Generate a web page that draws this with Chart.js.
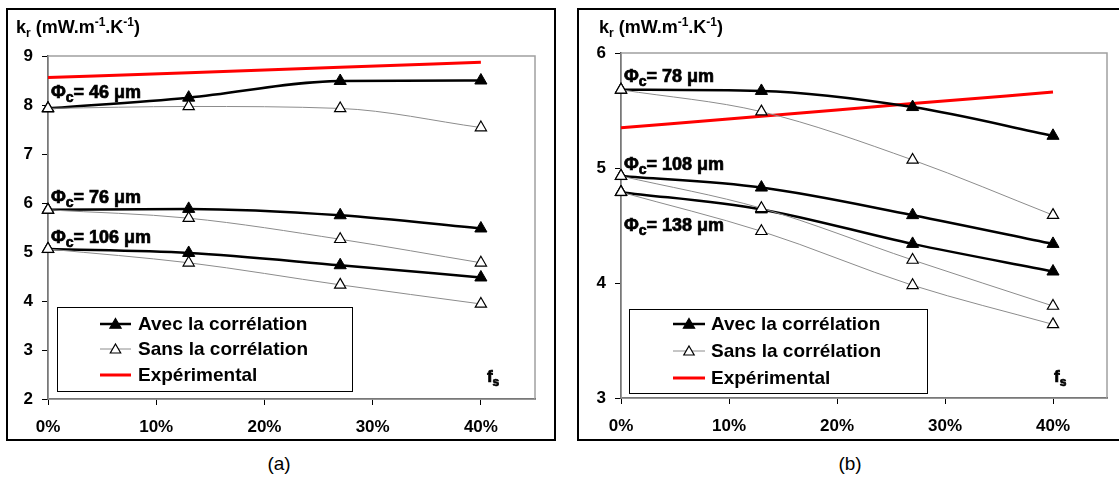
<!DOCTYPE html>
<html>
<head>
<meta charset="utf-8">
<script src="https://cdn.jsdelivr.net/npm/chart.js@4"></script>
<style>
body{margin:0;background:#fff;width:1119px;height:481px;overflow:hidden;position:relative;font-family:"Liberation Sans",Arial,sans-serif}
.box{position:absolute;border:2px solid #000;box-sizing:border-box}
canvas{position:absolute}
.cap{position:absolute;font-size:19px;top:453px;width:40px;text-align:center}
</style>
</head>
<body>
<div class="box" style="left:6px;top:8px;width:550px;height:433px"></div>
<canvas id="chartA" style="left:8px;top:10px" width="546" height="429"></canvas>
<div class="box" style="left:577px;top:8px;width:545px;height:433px"></div>
<canvas id="chartB" style="left:579px;top:10px" width="538" height="429"></canvas>
<div class="cap" style="left:259px">(a)</div>
<div class="cap" style="left:830px">(b)</div>
<script>
// fraction of solid (fs)
var fsValues = [0, 0.13, 0.27, 0.40];
var xTickValues = [0, 0.1, 0.2, 0.3, 0.4];
var xMax = 0.45;

// (a)
var avec46  = [7.93, 8.15, 8.49, 8.50];
var sans46  = [7.93, 7.97, 7.93, 7.54];
var avec76  = [5.86, 5.88, 5.75, 5.48];
var sans76  = [5.86, 5.69, 5.26, 4.78];
var avec106 = [5.06, 4.98, 4.73, 4.48];
var sans106 = [5.06, 4.78, 4.33, 3.94];
var expA    = [8.56, 8.66, 8.77, 8.87];

// (b)
var avec78  = [5.68, 5.67, 5.53, 5.28];
var sans78  = [5.68, 5.49, 5.07, 4.59];
var avec108 = [4.93, 4.83, 4.59, 4.34];
var sans108 = [4.93, 4.65, 4.20, 3.80];
var avec138 = [4.79, 4.64, 4.34, 4.10];
var sans138 = [4.79, 4.45, 3.98, 3.64];
var expB    = [5.35, 5.45, 5.56, 5.66];

var legendLabels = ["Avec la corrélation", "Sans la corrélation", "Expérimental"];

function series(vals) {
    return fsValues.map(function(x, i) { return {x: x, y: vals[i]}; });
}

var avecStyle = {borderColor:'#000', borderWidth:2.5, pointStyle:'triangle', pointRadius:7,
    pointBackgroundColor:'#000', pointBorderColor:'#000', pointBorderWidth:1, cubicInterpolationMode:'monotone', clip:false};
var sansStyle = {borderColor:'#8c8c8c', borderWidth:1, pointStyle:'triangle', pointRadius:6.5,
    pointBackgroundColor:'#fff', pointBorderColor:'#000', pointBorderWidth:1.2, cubicInterpolationMode:'monotone', clip:false};
var expStyle = {borderColor:'#ff0000', borderWidth:3, pointRadius:0, cubicInterpolationMode:'monotone', clip:false};

function ds(vals, style) {
    return Object.assign({data: series(vals)}, style);
}

// text with sub/superscripts
function drawRuns(ctx, x, y, runs, outline) {
    runs.forEach(function(r) {
        ctx.font = 'bold ' + r.s + 'px "Liberation Sans", Arial, sans-serif';
        ctx.fillText(r.t, x, y + (r.dy || 0));
        if (outline) {
            ctx.lineWidth = 0.7;
            ctx.strokeText(r.t, x, y + (r.dy || 0));
        }
        x += ctx.measureText(r.t).width;
    });
}

function triangle(ctx, x, y, r, fill) {
    ctx.beginPath();
    for (var k = 0; k < 3; k++) {
        var a = k * 2 * Math.PI / 3;
        var px = x + Math.sin(a) * r, py = y - Math.cos(a) * r;
        if (k == 0) ctx.moveTo(px, py); else ctx.lineTo(px, py);
    }
    ctx.closePath();
    ctx.fillStyle = fill;
    ctx.fill();
    ctx.strokeStyle = '#000';
    ctx.lineWidth = 1.2;
    ctx.stroke();
}

var decorPlugin = {
    id: 'decor',
    beforeDatasetsDraw: function(chart) {
        var a = chart.chartArea, ctx = chart.ctx;
        ctx.save();
        ctx.strokeStyle = '#a0a0a0';
        ctx.lineWidth = 1.5;
        ctx.strokeRect(a.left, a.top, a.right - a.left, a.bottom - a.top);
        ctx.restore();
    },
    afterDraw: function(chart, args, o) {
        var ctx = chart.ctx, a = chart.chartArea;
        var xs = chart.scales.x, ys = chart.scales.y;
        ctx.save();
        ctx.fillStyle = '#000';
        ctx.strokeStyle = '#000';
        ctx.textBaseline = 'alphabetic';
        // axis title
        drawRuns(ctx, o.titleX, o.titleY, [
            {t:'k', s:18}, {t:'r', s:12, dy:4}, {t:' (mW.m', s:18}, {t:'-1', s:12, dy:-7},
            {t:'.K', s:18}, {t:'-1', s:12, dy:-7}, {t:')', s:18}]);
        // curve labels
        o.labels.forEach(function(l) {
            drawRuns(ctx, xs.getPixelForValue(0) + 3, ys.getPixelForValue(l.y), [
                {t:'Φ', s:18}, {t:'c', s:14, dy:4}, {t:'= ' + l.d + ' μm', s:18}], true);
        });
        drawRuns(ctx, xs.getPixelForValue(o.fsX), ys.getPixelForValue(o.fsY), [
            {t:'f', s:17}, {t:'s', s:12, dy:4}], true);
        // legend
        var L = o.legend;
        var bx = a.left + L.x, by = a.top + L.y;
        ctx.fillStyle = '#fff';
        ctx.fillRect(bx, by, L.w, L.h);
        ctx.strokeStyle = '#000';
        ctx.lineWidth = 1;
        ctx.strokeRect(bx + 0.5, by + 0.5, L.w, L.h);
        var styles = [avecStyle, sansStyle, expStyle];
        legendLabels.forEach(function(txt, i) {
            var ry = by + L.rows[i];
            var st = styles[i];
            ctx.strokeStyle = st.borderColor;
            ctx.lineWidth = st.borderWidth;
            ctx.beginPath();
            ctx.moveTo(bx + L.l1, ry);
            ctx.lineTo(bx + L.l2, ry);
            ctx.stroke();
            if (st.pointRadius) triangle(ctx, bx + (L.l1 + L.l2) / 2, ry + 1, st.pointRadius - 0.5, st.pointBackgroundColor);
            ctx.fillStyle = '#000';
            ctx.font = 'bold 19px "Liberation Sans", Arial, sans-serif';
            ctx.textBaseline = 'middle';
            ctx.fillText(txt, bx + L.tx, ry + 1);
        });
        ctx.restore();
    }
};

function makeChart(id, sets, yMin, yMax, axisW, axisH, pad, deco) {
    return new Chart(document.getElementById(id), {
        type: 'line',
        data: {datasets: sets},
        plugins: [decorPlugin],
        options: {
            responsive: false,
            animation: false,
            layout: {padding: pad},
            plugins: {legend: {display: false}, tooltip: {enabled: false}, decor: deco},
            scales: {
                x: {
                    type: 'linear', min: 0, max: xMax,
                    afterBuildTicks: function(s) { s.ticks = xTickValues.map(function(v) { return {value: v}; }); },
                    afterFit: function(s) { s.height = axisH; },
                    ticks: {color: '#000', padding: 12, maxRotation: 0, autoSkip: false,
                        font: {family: '"Liberation Sans", Arial', size: 17, weight: 'bold'},
                        callback: function(v) { return Math.round(v * 100) + '%'; }},
                    grid: {drawOnChartArea: false, tickLength: 6, color: '#000'},
                    border: {color: '#000', width: 1.5}
                },
                y: {
                    min: yMin, max: yMax,
                    afterFit: function(s) { s.width = axisW; },
                    ticks: {stepSize: 1, color: '#000', padding: 9,
                        font: {family: '"Liberation Sans", Arial', size: 17, weight: 'bold'}},
                    grid: {drawOnChartArea: false, tickLength: 6, color: '#000'},
                    border: {color: '#000', width: 1.5}
                }
            }
        }
    });
}

makeChart('chartA', [
    ds(sans46, sansStyle), ds(sans76, sansStyle), ds(sans106, sansStyle),
    ds(avec46, avecStyle), ds(avec76, avecStyle), ds(avec106, avecStyle),
    ds(expA, expStyle)
], 2, 9, 40, 40, {top: 46, right: 19, left: 0, bottom: 0}, {
    titleX: 8, titleY: 23,
    labels: [{d: 46, y: 8.14}, {d: 76, y: 6.0}, {d: 106, y: 5.18}],
    fsX: 0.4056, fsY: 2.35,
    legend: {x: 9, y: 251, w: 295, h: 84, rows: [17, 42, 68], l1: 43, l2: 74, tx: 81}
});

makeChart('chartB', [
    ds(sans78, sansStyle), ds(sans108, sansStyle), ds(sans138, sansStyle),
    ds(avec78, avecStyle), ds(avec108, avecStyle), ds(avec138, avecStyle),
    ds(expB, expStyle)
], 3, 6, 42, 41, {top: 43, right: 10, left: 0, bottom: 0}, {
    titleX: 20, titleY: 23,
    labels: [{d: 78, y: 5.75}, {d: 108, y: 4.98}, {d: 138, y: 4.45}],
    fsX: 0.401, fsY: 3.14,
    legend: {x: 8, y: 256, w: 298, h: 84, rows: [15, 42, 69], l1: 44, l2: 76, tx: 82}
});
</script>
</body>
</html>
